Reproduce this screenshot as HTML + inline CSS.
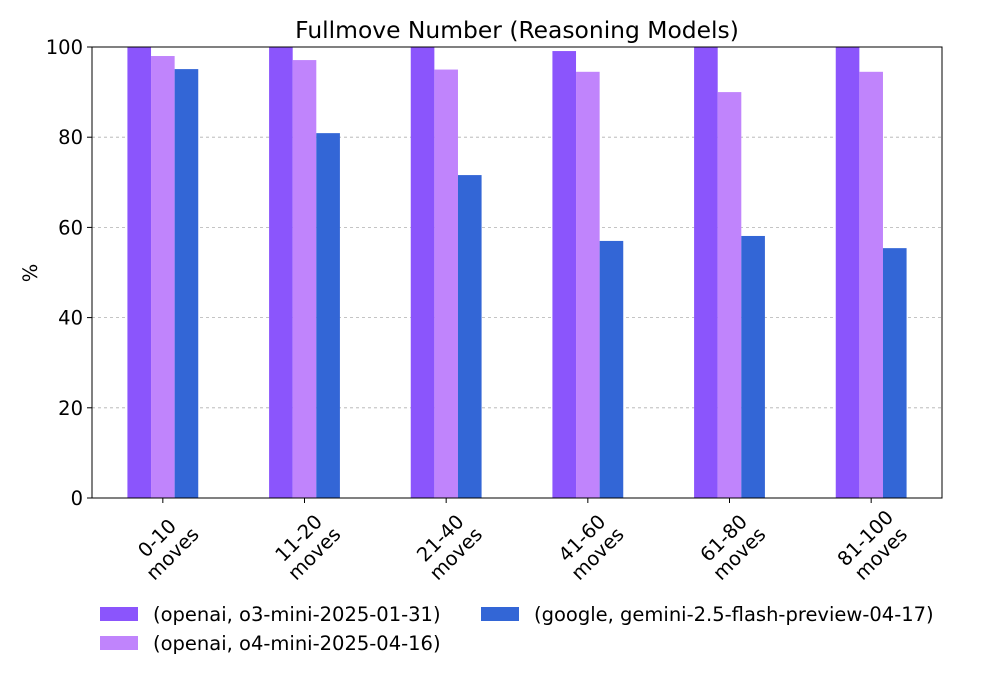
<!DOCTYPE html>
<html><head><meta charset="utf-8"><style>
body{margin:0;background:#fff;}
svg{display:block;font-family:"DejaVu Sans","Liberation Sans",sans-serif;}
</style></head><body>
<svg id="chart" width="1000" height="700">
<text x="517" y="38" font-size="23.4" text-anchor="middle">Fullmove Number (Reasoning Models)</text>
<g id="grid"></g>
<g id="bars"></g>
<rect x="92" y="47" width="850" height="451" fill="none" stroke="#000" stroke-width="1"/>
<g id="axes"></g>
<text transform="translate(37,273) rotate(-90)" font-size="19.5" text-anchor="middle">%</text>
<g id="legend"></g>
</svg>
<script>
const categories=["0-10","11-20","21-40","41-60","61-80","81-100"];
const seriesNames=["(openai, o3-mini-2025-01-31)","(openai, o4-mini-2025-04-16)","(google, gemini-2.5-flash-preview-04-17)"];
const o3Values=[100,100,100,99.1,100,100];
const o4Values=[98,97.1,95,94.5,90,94.5];
const geminiValues=[95.1,80.9,71.6,57,58.1,55.4];
const yTicks=[0,20,40,60,80,100];
const colors=["#8b55fc","#c084fc","#3366d6"];
const NS="http://www.w3.org/2000/svg";
const L=92,R=942,T=47,B=498;
const y=v=>B-(v/100)*(B-T);
const band=(R-L)/categories.length;
const xc=i=>L+band*(i+0.5);
const bw=band/6;
function mk(tag,attrs,parent){const e=document.createElementNS(NS,tag);for(const k in attrs)e.setAttribute(k,attrs[k]);parent.appendChild(e);return e;}
const grid=document.getElementById('grid'),bars=document.getElementById('bars'),axes=document.getElementById('axes'),legend=document.getElementById('legend');
yTicks.forEach(t=>{
 if(t>0&&t<100){const g=mk('line',{x1:L,x2:R,y1:y(t),y2:y(t),stroke:'#b0b0b0','stroke-dasharray':'3,3','stroke-width':0.8},grid);
 
 }
 const tk=mk('line',{x1:L-5,x2:L,y1:y(t),y2:y(t),stroke:'#000'},axes);
 
 
 const tx=mk('text',{x:L-9,y:y(t)+7,'font-size':19.5,'text-anchor':'end'},axes);tx.textContent=t;
 
 
});
const series=[o3Values,o4Values,geminiValues];
series.forEach((vals,s)=>{vals.forEach((v,i)=>{
 const r=mk('rect',{x:xc(i)+(s-1.5)*bw,y:y(v),width:bw,height:B-y(v),fill:colors[s]},bars);
 
 
});});
categories.forEach((c,i)=>{
 const tk=mk('line',{x1:xc(i),x2:xc(i),y1:B,y2:B+5,stroke:'#000'},axes);
 
 
 const g=mk('g',{transform:`translate(${xc(i)+1},${B+47}) rotate(-45)`},axes);
 
 
 const t1=mk('text',{x:0,y:-3,'font-size':19.5,'text-anchor':'middle'},g);t1.textContent=c;
 const t2=mk('text',{x:0,y:19,'font-size':19.5,'text-anchor':'middle'},g);t2.textContent='moves';
});
const lpos=[[100,614],[100,643],[481,614]];
seriesNames.forEach((n,s)=>{
 const g=mk('g',{},legend);
 
 
 mk('rect',{x:lpos[s][0],y:lpos[s][1]-7,width:38,height:14,fill:colors[s]},g);
 const t=mk('text',{x:lpos[s][0]+53,y:lpos[s][1]+7,'font-size':19.5},g);t.textContent=n;
});
</script>
</body></html>
